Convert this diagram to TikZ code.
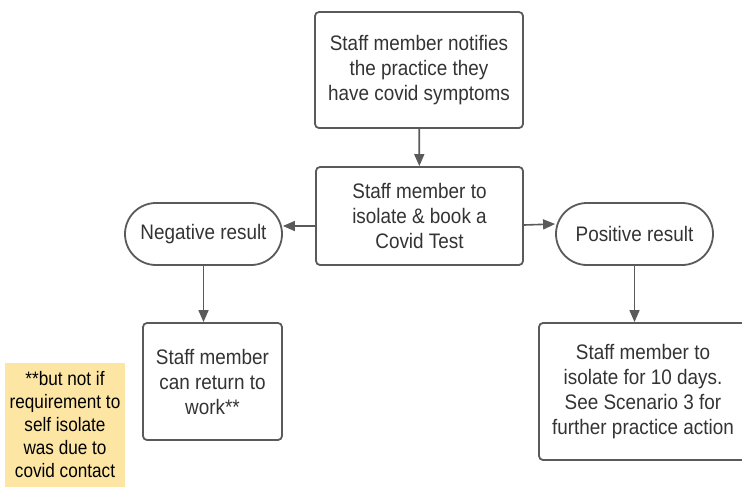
\documentclass[tikz,border=0pt]{standalone}
\usepackage{fontspec}
\setmainfont{Liberation Sans}[FakeStretch=0.9]
\newfontfamily\notefont{Liberation Sans}[FakeStretch=0.88]
\usetikzlibrary{arrows.meta}

\definecolor{linegray}{HTML}{5A5A5A}
\definecolor{textgray}{HTML}{333333}
\definecolor{notefill}{HTML}{FDE6A4}

\tikzset{
    box/.style={draw=linegray, line width=1.8pt, rounded corners=4pt, align=center,
        text=textgray, font=\fontsize{21}{25}\selectfont, inner sep=0pt},
    result/.style={box, rounded corners=31pt},
    arr/.style={draw=linegray, line width=1.6pt, -{Triangle[length=12pt, width=10pt]}}
}

\begin{document}
\begin{tikzpicture}[x=1pt, y=-1pt]

        \useasboundingbox (0,0) rectangle (742,493);

        % Notify
        \node (notify) [box, minimum width=208pt, minimum height=116pt] at (419,70)
            {Staff member notifies\\the practice they\\have covid symptoms};

        % Isolate
        \node (isolate) [box, minimum width=207pt, minimum height=98pt] at (419.5,216)
            {Staff member to\\isolate \& book a\\Covid Test};

        % Negative
        \node (neg) [result, minimum width=157pt, minimum height=62pt] at (203.5,234)
            {Negative result};

        % Positive
        \node (pos) [result, minimum width=157pt, minimum height=62pt] at (634.5,234)
            {Positive result};

        % Return
        \node (back) [box, minimum width=139pt, minimum height=117pt] at (212.5,381.5)
            {Staff member\\can return to\\work**};

        % Isolate 10 days
        \node (days) [box, minimum width=208pt, minimum height=137pt] at (643,391.5)
            {Staff member to\\isolate for 10 days.\\See Scenario 3 for\\further practice action};

        % Note
        \node (note) [fill=notefill, minimum width=120pt, minimum height=124pt, align=center,
            text=black, font=\notefont\fontsize{19.5}{23}\selectfont, inner sep=0pt] at (65,425)
            {**but not if\\requirement to\\self isolate\\was due to\\covid contact};

        % Arrows
        \draw[arr] (notify) -- (isolate);
        \draw[arr] ([yshift=-10pt]isolate.west) -- ([yshift=8pt]neg.east);
        \draw[arr] ([yshift=-9pt]isolate.east) -- ([yshift=10pt]pos.west);
        \draw[arr] (neg.south) -- (neg.south |- back.north);
        \draw[arr] (pos.south) -- (pos.south |- days.north);

    \end{tikzpicture}
\end{document}
